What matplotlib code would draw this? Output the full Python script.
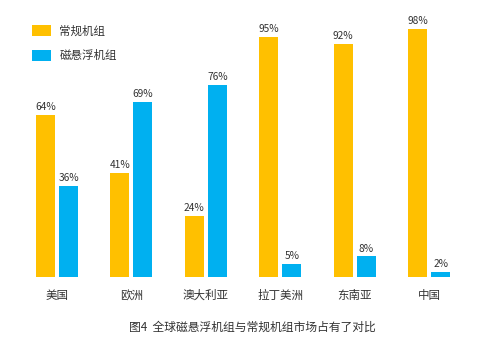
import matplotlib
matplotlib.use("Agg")
import matplotlib.pyplot as plt
import numpy as np

plt.rcParams['font.family'] = ['Noto Sans CJK SC', 'DejaVu Sans']

regions = ["美国", "欧洲", "澳大利亚", "拉丁美洲", "东南亚", "中国"]
conventional = [64, 41, 24, 95, 92, 98]
maglev = [36, 69, 76, 5, 8, 2]
series_names = ["常规机组", "磁悬浮机组"]
title = "图4  全球磁悬浮机组与常规机组市场占有了对比"

yellow = "#FFC000"
blue = "#00B0F0"
text_color = "#333333"

fig = plt.figure(figsize=(4.89, 3.38), dpi=100)
ax = fig.add_axes([0.0405, 0.1814, 0.913, 0.748])

x = np.arange(len(regions))
w = 0.255
off = 0.155
b1 = ax.bar(x - off, conventional, w, color=yellow, label=series_names[0])
b2 = ax.bar(x + off, maglev, w, color=blue, label=series_names[1])

for bars, vals in ((b1, conventional), (b2, maglev)):
    for rect, v in zip(bars, vals):
        ax.annotate(f"{v}%", (rect.get_x() + rect.get_width() / 2, v),
                    xytext=(0, 2), textcoords="offset points",
                    ha="center", va="bottom", fontsize=7.3, color=text_color)

ax.set_xlim(-0.5, len(regions) - 0.5)
ax.set_ylim(0, 100)
ax.set_xticks(x)
ax.set_xticklabels(regions, fontsize=8.3, color=text_color)
ax.tick_params(axis="x", length=0, pad=9)
ax.set_yticks([])
for s in ax.spines.values():
    s.set_visible(False)

leg = ax.legend(loc="upper left", bbox_to_anchor=(0.053, 0.945),
                bbox_transform=fig.transFigure, frameon=False,
                fontsize=8.3, handlelength=1.65, handleheight=1.15,
                handletextpad=0.75, labelspacing=1.05, borderpad=0)
for t in leg.get_texts():
    t.set_color(text_color)

fig.text(0.516, 0.033, title, ha="center", va="center", fontsize=8.5,
         color=text_color)

fig.savefig("out.png", dpi=100)
